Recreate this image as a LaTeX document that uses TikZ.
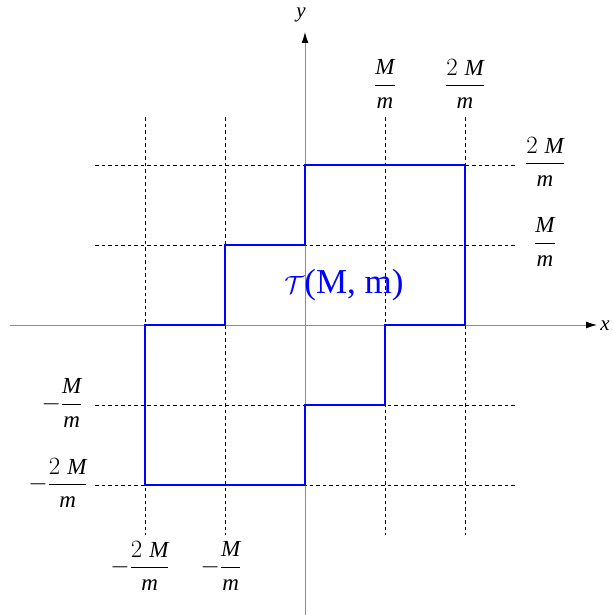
\documentclass[tikz,border=0pt]{standalone}
\usepackage{fontspec}
\setmainfont{Liberation Serif}
\usetikzlibrary{arrows.meta}
\newcommand\myfr[1]{$\displaystyle\frac{#1}{\textit{m}}$}
\begin{document}
\begin{tikzpicture}[x=1pt,y=-1pt,
  axis/.style={draw=black!45,line width=0.9pt,-{Latex[length=11pt,width=7pt,black]}},
  grid/.style={draw=black,line width=0.8pt,dash pattern=on 3.5pt off 3pt},
  region/.style={draw=blue,line width=2.5pt,line join=miter},
  lab/.style={font=\fontsize{23}{27}\selectfont,inner sep=0pt},
  axlab/.style={font=\fontsize{21}{25}\selectfont\itshape,inner sep=0pt}]
\useasboundingbox (0,0) rectangle (613,615);
% grid lines
\foreach \x in {145,225,385,465} \draw[grid] (\x,117) -- (\x,535);
\foreach \y in {165,245,405,485} \draw[grid] (95,\y) -- (515,\y);
% axes
\coordinate (xs) at (10,325); \coordinate (xe) at (597,325);
\coordinate (ys) at (305,615); \coordinate (ye) at (305,32);
\draw[axis] (xs) -- (xe);
\draw[axis] (ys) -- (ye);
\node[axlab] (xl) at (605,326) {x};
\node[axlab] (yl) at (301,15) {y};
% region
\draw[region] (305,165) -- (465,165) -- (465,325) -- (385,325) -- (385,405)
  -- (305,405) -- (305,485) -- (145,485) -- (145,325) -- (225,325)
  -- (225,245) -- (305,245) -- cycle;
\node[font=\fontsize{35}{40}\selectfont,text=blue,inner sep=0pt] (T) at (344,285) {$\mathcal{T}$(M, m)};
% labels
\node[lab] (t1) at (385,84) {\myfr{\textit{M}}};
\node[lab] (t2) at (465,84) {\myfr{2\;\textit{M}}};
\node[lab] (r2) at (545,162) {\myfr{2\;\textit{M}}};
\node[lab] (r1) at (545,242) {\myfr{\textit{M}}};
\node[lab] (l1) at (62,403) {$-$\myfr{\textit{M}}};
\node[lab] (l2) at (58,483) {$-$\myfr{2\;\textit{M}}};
\node[lab] (b2) at (140,566) {$-$\myfr{2\;\textit{M}}};
\node[lab] (b1) at (221,566) {$-$\myfr{\textit{M}}};
\end{tikzpicture}
\end{document}
